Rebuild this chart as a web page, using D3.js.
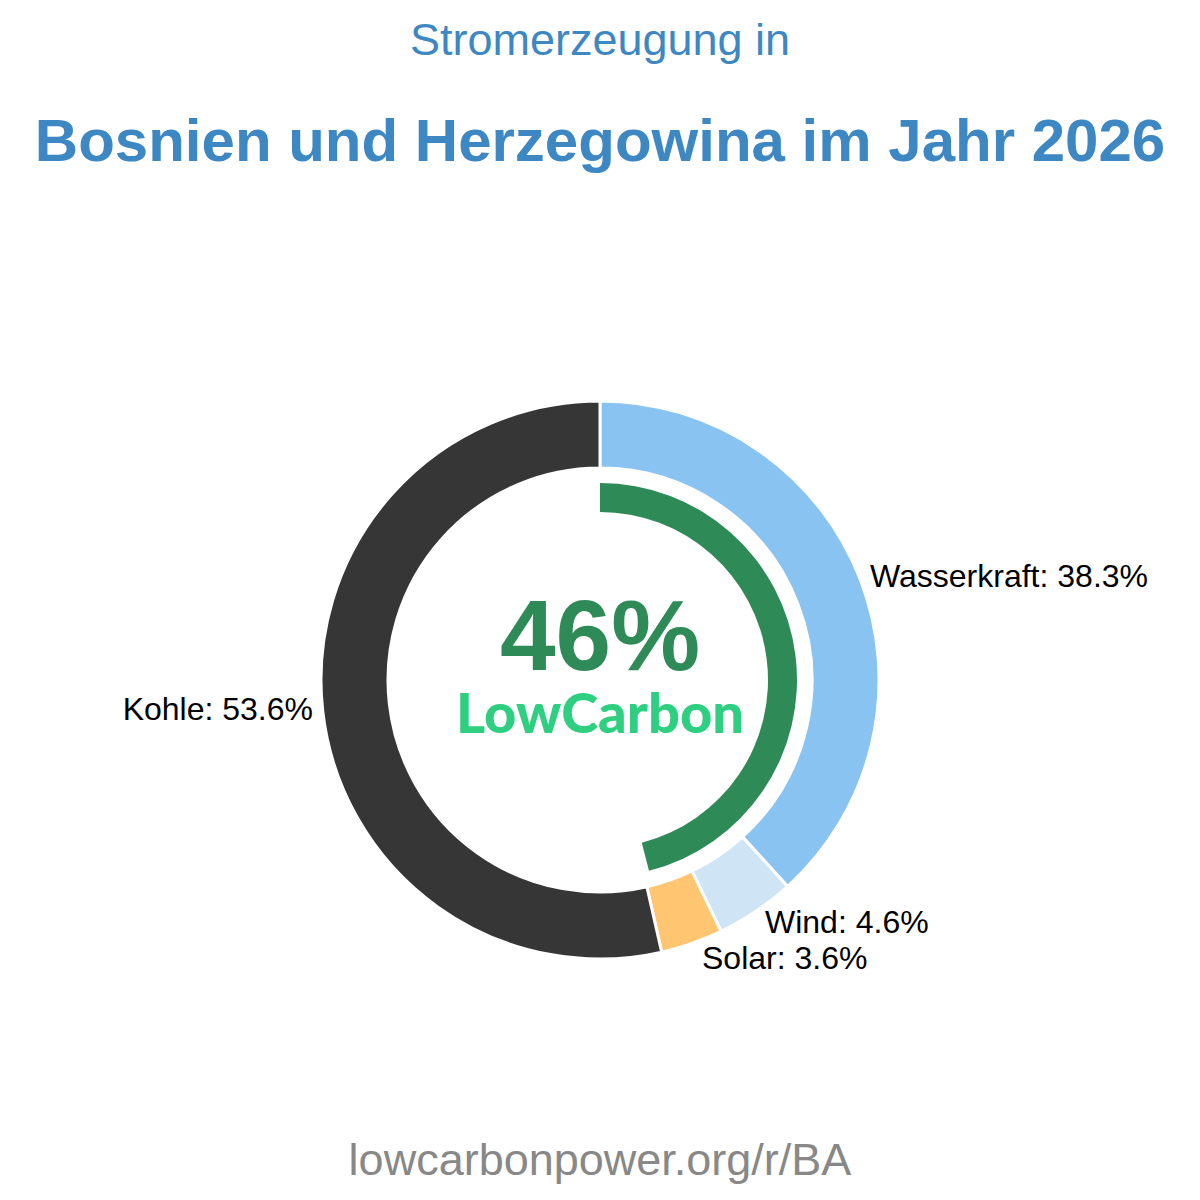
<!DOCTYPE html>
<html><head><meta charset="utf-8">
<script src="https://cdn.jsdelivr.net/npm/d3@7"></script>
<style>body{margin:0;background:#fff}svg{display:block}</style>
</head><body>
<script>
const categories = ["Wasserkraft", "Wind", "Solar", "Kohle"];
const values = [38.3, 4.6, 3.6, 53.6];
const colors = ["#89c3f2", "#cfe5f6", "#ffc571", "#363636"];
const lowCarbonShare = 46;
const titleLine1 = "Stromerzeugung in";
const titleLine2 = "Bosnien und Herzegowina im Jahr 2026";
const footer = "lowcarbonpower.org/r/BA";

const W = 1200, H = 1200, cx = 600, cy = 680;
const svg = d3.select("body").append("svg").attr("width", W).attr("height", H);
const FONT = "Liberation Sans, Arial, sans-serif";

svg.append("text").attr("x", 600).attr("y", 55).attr("text-anchor", "middle")
  .attr("font-family", FONT).attr("font-size", 45)
  .attr("fill", "#3d87c2").text(titleLine1);
svg.append("text").attr("x", 600).attr("y", 161).attr("text-anchor", "middle")
  .attr("font-family", FONT).attr("font-size", 60).attr("font-weight", "bold")
  .attr("fill", "#3d87c2").text(titleLine2);

const g = svg.append("g").attr("transform", `translate(${cx},${cy})`);
const pie = d3.pie().sort(null).value(d => d.v);
const data = categories.map((c, i) => ({c, v: values[i], col: colors[i]}));
const arcs = pie(data);
const arc = d3.arc().innerRadius(212).outerRadius(279);
g.selectAll("path.seg").data(arcs).join("path").attr("class", "seg")
  .attr("d", arc).attr("fill", d => d.data.col).attr("stroke", "#fff").attr("stroke-width", 3);

const lcArc = d3.arc().innerRadius(168).outerRadius(197).startAngle(0)
  .endAngle(2 * Math.PI * lowCarbonShare / 100);
g.append("path").attr("d", lcArc()).attr("fill", "#2e8b57");

const labelPos = {
  "Wasserkraft": {x: 870, y: 587, anchor: "start"},
  "Wind": {x: 765, y: 933, anchor: "start"},
  "Solar": {x: 702, y: 969, anchor: "start"},
  "Kohle": {x: 313, y: 720, anchor: "end"}
};
arcs.forEach(a => {
  const p = labelPos[a.data.c];
  svg.append("text").attr("x", p.x).attr("y", p.y).attr("text-anchor", p.anchor)
    .attr("font-family", FONT).attr("font-size", 32)
    .attr("fill", "#000").text(`${a.data.c}: ${a.data.v.toFixed(1)}%`);
});

svg.append("text").attr("x", 600).attr("y", 670).attr("text-anchor", "middle")
  .attr("font-family", FONT).attr("font-size", 100).attr("font-weight", "bold")
  .attr("fill", "#2e8b57").text(lowCarbonShare + "%");
svg.append("text").attr("x", 600).attr("y", 733).attr("text-anchor", "middle")
  .attr("font-family", "Lato, sans-serif").attr("font-size", 56).attr("font-weight", 900)
  .attr("fill", "#2ecf80").text("LowCarbon");

svg.append("text").attr("x", 600).attr("y", 1175).attr("text-anchor", "middle")
  .attr("font-family", FONT).attr("font-size", 45)
  .attr("fill", "#888").text(footer);
</script>
</body></html>
